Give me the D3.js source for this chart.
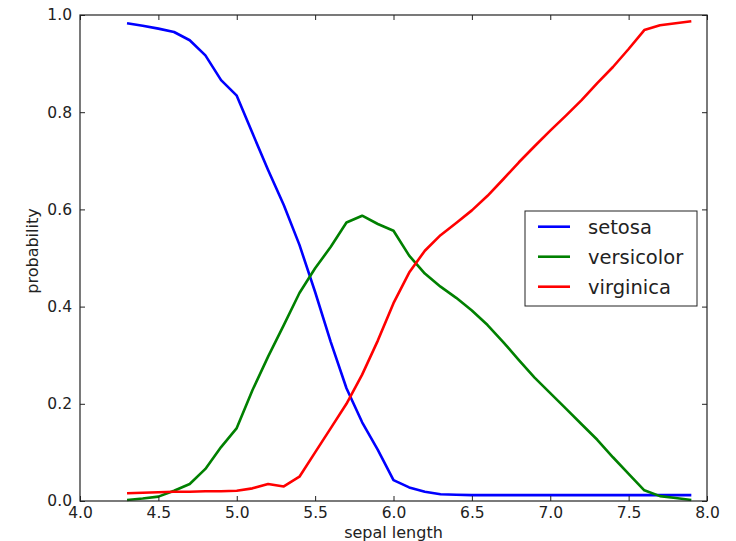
<!DOCTYPE html>
<html>
<head>
<meta charset="utf-8">
<script src="https://cdn.jsdelivr.net/npm/d3@7"></script>
<style>
  body { margin: 0; background: #fff; }
  svg { display: block; font-family: "DejaVu Sans", sans-serif; }
</style>
</head>
<body>
<svg id="chart" width="736" height="541"></svg>
<script>
const sepalLength = [4.3,4.4,4.5,4.6,4.7,4.8,4.9,5.0,5.1,5.2,5.3,5.4,5.5,5.6,5.7,5.8,5.9,6.0,6.1,6.2,6.3,6.4,6.5,6.6,6.7,6.8,6.9,7.0,7.1,7.2,7.3,7.4,7.5,7.6,7.7,7.8,7.9];
const setosa = [0.983,0.978,0.972,0.965,0.948,0.917,0.866,0.834,0.757,0.681,0.609,0.527,0.430,0.327,0.232,0.162,0.105,0.043,0.028,0.019,0.014,0.013,0.012,0.012,0.012,0.012,0.012,0.012,0.012,0.012,0.012,0.012,0.012,0.012,0.012,0.012,0.012];
const versicolor = [0.002,0.005,0.009,0.021,0.035,0.066,0.111,0.150,0.228,0.297,0.362,0.428,0.479,0.523,0.573,0.587,0.570,0.556,0.505,0.468,0.441,0.418,0.392,0.362,0.327,0.290,0.254,0.222,0.190,0.158,0.126,0.090,0.056,0.022,0.010,0.006,0.002];
const virginica = [0.016,0.017,0.018,0.019,0.019,0.020,0.020,0.021,0.026,0.035,0.030,0.050,0.100,0.150,0.200,0.260,0.330,0.407,0.470,0.515,0.547,0.572,0.598,0.628,0.662,0.697,0.730,0.762,0.793,0.825,0.860,0.893,0.930,0.969,0.979,0.983,0.987];
const seriesNames = ["setosa","versicolor","virginica"];
const seriesColors = ["#0000ff","#008000","#ff0000"];
const xTicks = [4.0,4.5,5.0,5.5,6.0,6.5,7.0,7.5,8.0];
const yTicks = [0.0,0.2,0.4,0.6,0.8,1.0];

(function () {
const svg = d3.select("#chart");
const m = {left: 80, right: 707, top: 15, bottom: 501};
const x = d3.scaleLinear().domain([4.0, 8.0]).range([m.left, m.right]);
const y = d3.scaleLinear().domain([0, 1]).range([m.bottom, m.top]);

const seriesData = [setosa, versicolor, virginica];
const line = d3.line().x((d,i) => x(sepalLength[i])).y(d => y(d));

svg.append("g").selectAll("path").data(seriesData).join("path")
  .attr("d", line)
  .attr("fill", "none")
  .attr("stroke", (d,i) => seriesColors[i])
  .attr("stroke-width", 2.6)
  .attr("stroke-linejoin", "round");

const tickLen = 5;
const fmt = d3.format(".1f");
const gBottom = svg.append("g").attr("transform", `translate(0,${m.bottom})`)
  .call(d3.axisBottom(x).tickValues(xTicks).tickFormat(fmt).tickSizeInner(-tickLen).tickSizeOuter(0).tickPadding(6));
const gTop = svg.append("g").attr("transform", `translate(0,${m.top})`)
  .call(d3.axisTop(x).tickValues(xTicks).tickFormat("").tickSizeInner(-tickLen).tickSizeOuter(0));
const gLeft = svg.append("g").attr("transform", `translate(${m.left},0)`)
  .call(d3.axisLeft(y).tickValues(yTicks).tickFormat(fmt).tickSizeInner(-tickLen).tickSizeOuter(0).tickPadding(8));
const gRight = svg.append("g").attr("transform", `translate(${m.right},0)`)
  .call(d3.axisRight(y).tickValues(yTicks).tickFormat("").tickSizeInner(-tickLen).tickSizeOuter(0));

[gBottom, gTop, gLeft, gRight].forEach(g => {
  g.select(".domain").remove();
  g.selectAll(".tick line").attr("stroke", "#222").attr("stroke-width", 1);
  g.selectAll(".tick text").attr("fill", "#222").style("font-size", "15.5px").style("font-family", "DejaVu Sans");
});

svg.append("rect")
  .attr("x", m.left).attr("y", m.top)
  .attr("width", m.right - m.left).attr("height", m.bottom - m.top)
  .attr("fill", "none").attr("stroke", "#222").attr("stroke-width", 1.2);

svg.append("text").attr("x", (m.left + m.right) / 2).attr("y", 538)
  .attr("text-anchor", "middle").attr("fill", "#222")
  .style("font-size", "16px").text("sepal length");
svg.append("text").attr("transform", "translate(38,251) rotate(-90)")
  .attr("text-anchor", "middle").attr("fill", "#222")
  .style("font-size", "16px").text("probability");

const lg = svg.append("g");
lg.append("rect").attr("x", 525).attr("y", 211).attr("width", 172).attr("height", 95)
  .attr("fill", "#fff").attr("stroke", "#222").attr("stroke-width", 1);
seriesNames.forEach((name, i) => {
  const yy = 226.7 + i * 30;
  lg.append("line").attr("x1", 538).attr("x2", 570).attr("y1", yy).attr("y2", yy)
    .attr("stroke", seriesColors[i]).attr("stroke-width", 2.6);
  lg.append("text").attr("x", 588).attr("y", yy).attr("dy", "0.35em")
    .attr("fill", "#222").style("font-size", "19.5px").text(name);
});
})();
</script>
</body>
</html>
